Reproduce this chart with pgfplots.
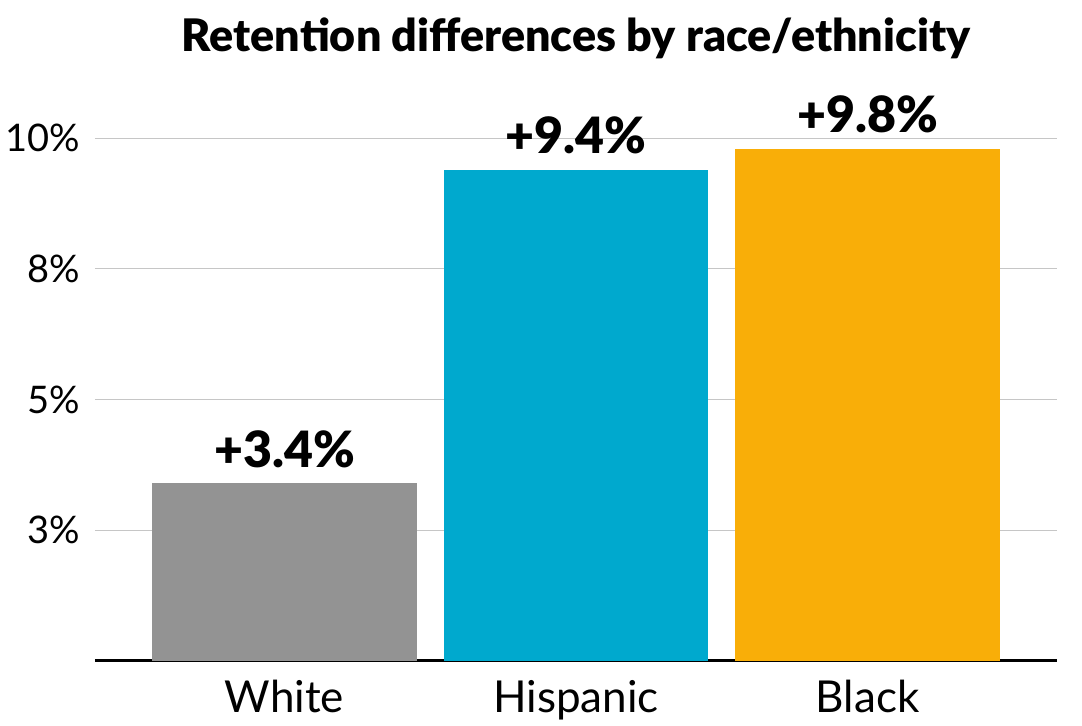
\documentclass[border=0pt]{standalone}
\usepackage{fontspec}
\setmainfont{Lato}
\newfontfamily\heavy{Lato Black}
\usepackage{pgfplots}
\pgfplotsset{compat=1.18}
\definecolor{cwhite}{RGB}{147,147,147}
\definecolor{chisp}{RGB}{0,169,206}
\definecolor{cblack}{RGB}{249,174,8}
\begin{document}
\begin{tikzpicture}
\path[use as bounding box] (-47.5pt,-32.5pt) rectangle (493.5pt,330.5pt);
\begin{axis}[
    scale only axis,
    width=481pt, height=274.5pt,
    xmin=-0.65, xmax=2.65, ymin=0, ymax=10.5,
    ybar, bar width=0.9075, bar shift=0pt,
    axis x line=bottom, axis y line=left,
    y axis line style={draw=none},
    x axis line style={line width=1.5pt,-},
    major tick length=0pt,
    ymajorgrids, grid style={gray!45, line width=0.6pt},
    ytick={2.5,5,7.5,10}, yticklabels={3\%,5\%,8\%,10\%},
    xtick={0,1,2}, xticklabels={White,Hispanic,Black},
    yticklabel style={font=\fontsize{19}{21}\selectfont, anchor=east, inner sep=0pt, xshift=-7.5pt},
    xticklabel style={font=\fontsize{22}{24}\selectfont, anchor=base, inner sep=0pt, yshift=-26pt},
    nodes near coords, point meta=explicit symbolic,
    nodes near coords style={font=\fontsize{25}{27}\selectfont\heavy, anchor=base, inner sep=0pt, yshift=8pt, black},
    title={Retention differences by race/ethnicity},
    title style={font=\fontsize{22.4}{24}\selectfont\heavy, anchor=base, at={(0.5,1)}, yshift=24pt},
    clip=false,
]
\addplot[fill=cwhite, draw=none] coordinates {(0,3.4) [+3.4\%]};
\addplot[fill=chisp, draw=none] coordinates {(1,9.4) [+9.4\%]};
\addplot[fill=cblack, draw=none] coordinates {(2,9.8) [+9.8\%]};
\end{axis}
\end{tikzpicture}
\end{document}
